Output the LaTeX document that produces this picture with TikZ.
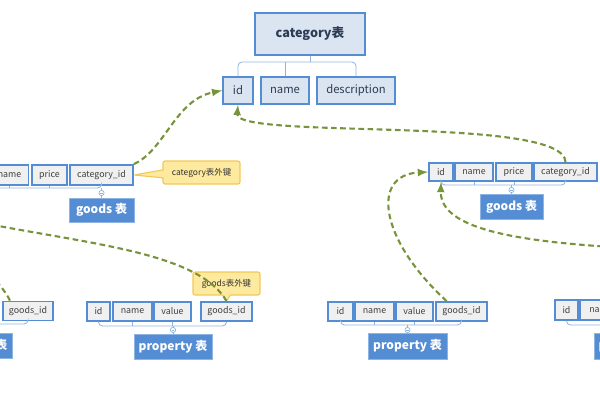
\documentclass[tikz,border=0pt]{standalone}
\usepackage{fontspec}
\setmainfont{Noto Sans CJK SC}
\usepackage{tikz}
\usetikzlibrary{shapes.callouts}
\usepackage{xcolor}
\definecolor{erblue}{RGB}{84,141,212}
\definecolor{erlightblue}{RGB}{219,229,241}
\definecolor{erline}{RGB}{141,180,226}
\definecolor{ergray}{RGB}{240,240,240}
\definecolor{ertext}{RGB}{45,60,85}
\definecolor{ergreen}{RGB}{119,147,60}
\definecolor{eryellow}{RGB}{253,234,158}
\definecolor{eryellowdark}{RGB}{244,199,88}
\tikzstyle{link} = [line width=1.5pt, ->, >=latex, dash pattern=on 4pt off 2.5pt, color=ergreen]
\tikzstyle{bus} = [line width=0.6pt, color=erline, rounded corners=1mm]
\tikzstyle{tabletitle} = [rectangle, minimum width=27.5mm, minimum height=10.5mm, draw=erblue, line width=2pt, fill=erlightblue, text=ertext, font=\bfseries\fontsize{9}{11}\selectfont]
\tikzstyle{catfield} = [rectangle, minimum height=6.75mm, inner sep=0pt, draw=erblue, line width=1.1pt, fill=erlightblue, text=ertext, font=\fontsize{8}{10}\selectfont]
\tikzstyle{field} = [rectangle, minimum height=4.75mm, inner sep=0pt, draw=erblue, line width=1.3pt, fill=ergray, text=black!75, font=\fontsize{6.3}{8}\selectfont]
\tikzstyle{tablebox} = [rectangle, minimum width=19.5mm, minimum height=6.25mm, draw=erline, line width=0.6pt, fill=erblue, text=white, font=\bfseries\fontsize{8.5}{10}\selectfont]
\tikzstyle{fold} = [circle, draw=erline, fill=white, inner sep=0pt, minimum size=1.3mm, line width=0.5pt, path picture={\draw[erline, line width=0.4pt] ([xshift=0.3mm]path picture bounding box.west) -- ([xshift=-0.3mm]path picture bounding box.east);}]
\tikzstyle{note} = [rectangle callout, rounded corners=1.5pt, callout pointer width=2mm, draw=eryellowdark, line width=0.8pt, fill=eryellow, minimum height=5.75mm, inner sep=0pt, text=black!80, font=\fontsize{6}{7}\selectfont]

\begin{document}
\begin{tikzpicture}[x=0.25mm, y=-0.25mm]
    \clip (0,0) rectangle (600,400);

    % category table
    \node[tabletitle] (cat) at (310,34) {category表};
    \node[catfield, minimum width=7.5mm] (cid) at (238,90.5) {id};
    \node[catfield, minimum width=12mm] (cname) at (285,90.5) {name};
    \node[catfield, minimum width=19.5mm] (cdesc) at (356,90.5) {description};
    \draw[bus] (cid.north) -- (cid |- 0,62) -- (cdesc |- 0,62) -- (cdesc.north);
    \draw[bus] (cname.north) -- (cname |- 0,62);
    \draw[bus] (cat.south) -- (cat |- 0,62);

    % goods table (left)
    \node[field, minimum width=9.5mm, minimum height=5mm] (lgname) at (9.5,175) {name};
    \node[field, minimum width=8.75mm, minimum height=5mm] (lgprice) at (49.5,175) {price};
    \node[field, minimum width=15.75mm, minimum height=5mm] (lgcid) at (101.5,175) {category\_id};
    \node[tablebox, minimum width=16.25mm, minimum height=6mm] (lgoods) at (101.5,210) {goods 表};
    \node[fold] (lgfold) at (101.5,193) {};
    \coordinate (lgstart) at (-20,188);
    \draw[bus] (lgstart) -- (lgcid |- 0,188) -- (lgcid.south);
    \draw[bus] (lgname.south) -- (lgname |- 0,188);
    \draw[bus] (lgprice.south) -- (lgprice |- 0,188);
    \draw[bus] (lgfold) -- (lgcid |- 0,188);
    \draw[bus] (lgfold) -- (lgoods.north);
    \node[note, minimum width=19.25mm, callout absolute pointer={(lgcid.east)}] (lgnote) at (201.5,172.5) {category表外键};

    % goods table (right)
    \node[field, minimum width=6mm, minimum height=4.5mm] (rgid) at (441,172) {id};
    \node[field, minimum width=9.5mm, minimum height=4.5mm] (rgname) at (474,172) {name};
    \node[field, minimum width=9mm, minimum height=4.5mm] (rgprice) at (514,172) {price};
    \node[field, minimum width=15.75mm, minimum height=4.5mm] (rgcid) at (565.5,172) {category\_id};
    \node[tablebox, minimum width=15.75mm] (rgoods) at (511.5,206.5) {goods 表};
    \node[fold] (rgfold) at (511.5,190) {};
    \draw[bus] (rgid.south) -- (rgid |- 0,185) -- (rgcid |- 0,185) -- (rgcid.south);
    \draw[bus] (rgname.south) -- (rgname |- 0,185);
    \draw[bus] (rgprice.south) -- (rgprice |- 0,185);
    \draw[bus] (rgfold) -- (rgfold |- 0,185);
    \draw[bus] (rgfold) -- (rgoods.north);

    % property table (left)
    \node[field, minimum width=12.5mm] (lpgid) at (28,311) {goods\_id};
    \node[tablebox] (lprop) at (-27,345.5) {property 表};
    \node[fold] (lpfold) at (-27,330) {};
    \draw[bus] (lpfold) -- (lpfold |- 0,324) -- (lpgid |- 0,324) -- (lpgid.south);
    \draw[bus] (lpfold) -- (lprop.north);

    % property table (middle)
    \node[field, minimum width=5.75mm] (mpid) at (98.5,311.5) {id};
    \node[field, minimum width=9.75mm] (mpname) at (132.5,311.5) {name};
    \node[field, minimum width=9.25mm] (mpvalue) at (172.5,311.5) {value};
    \node[field, minimum width=12.75mm] (mpgid) at (226.5,311.5) {goods\_id};
    \node[tablebox] (mprop) at (173,346.5) {property 表};
    \node[fold] (mpfold) at (173,330) {};
    \draw[bus] (mpid.south) -- (mpid |- 0,326) -- (mpgid |- 0,326) -- (mpgid.south);
    \draw[bus] (mpname.south) -- (mpname |- 0,326);
    \draw[bus] (mpvalue.south) -- (mpvalue |- 0,326);
    \draw[bus] (mpfold) -- (mpfold |- 0,326);
    \draw[bus] (mpfold) -- (mprop.north);
    \node[note, minimum width=16.75mm, callout absolute pointer={(mpgid.north)}] (mpnote) at (226.5,283.5) {goods表外键};

    % property table (right)
    \node[field, minimum width=6.25mm] (rpid) at (340.5,311.5) {id};
    \node[field, minimum width=9.75mm] (rpname) at (374.5,311.5) {name};
    \node[field, minimum width=9.25mm] (rpvalue) at (414.5,311.5) {value};
    \node[field, minimum width=12.75mm] (rpgid) at (461.5,311.5) {goods\_id};
    \node[tablebox, minimum width=19.75mm, minimum height=6.5mm] (rprop) at (407.5,346) {property 表};
    \node[fold] (rpfold) at (407.5,330) {};
    \draw[bus] (rpid.south) -- (rpid |- 0,325) -- (rpgid |- 0,325) -- (rpgid.south);
    \draw[bus] (rpname.south) -- (rpname |- 0,325);
    \draw[bus] (rpvalue.south) -- (rpvalue |- 0,325);
    \draw[bus] (rpfold) -- (rpfold |- 0,325);
    \draw[bus] (rpfold) -- (rprop.north);

    % property table (far right)
    \node[field, minimum width=5.75mm, minimum height=5mm] (fpid) at (566.5,310) {id};
    \node[field, minimum width=10.5mm, minimum height=5mm] (fpname) at (601,310) {name};
    \node[tablebox, minimum height=6.5mm] (fprop) at (633,346) {property 表};
    \coordinate (fpend) at (640,325);
    \draw[bus] (fpid.south) -- (fpid |- 0,325) -- (fpend);

    % Arrows
    \draw[link] (lgcid.north east) .. controls (165,150) and (175,100) .. (cid.west);
    \draw[link] (rgcid.north) .. controls (565,115) and (235,140) .. (cid.south);
    \draw[link] (rpgid.145) .. controls (380,240) and (370,175) .. (rgid.west);
    \coordinate (rgin) at (612,247);
    \draw[link] (rgin) .. controls (500,240) and (440,225) .. (rgid.south);
    \coordinate (lgout) at (-12,224);
    \draw[link] (mpgid.north) .. controls (200,255) and (100,245) .. (lgout);
    \coordinate (lpout) at (-15,270);
    \draw[link] (lpgid.150) .. controls (5,290) and (-5,280) .. (lpout);
\end{tikzpicture}
\end{document}
